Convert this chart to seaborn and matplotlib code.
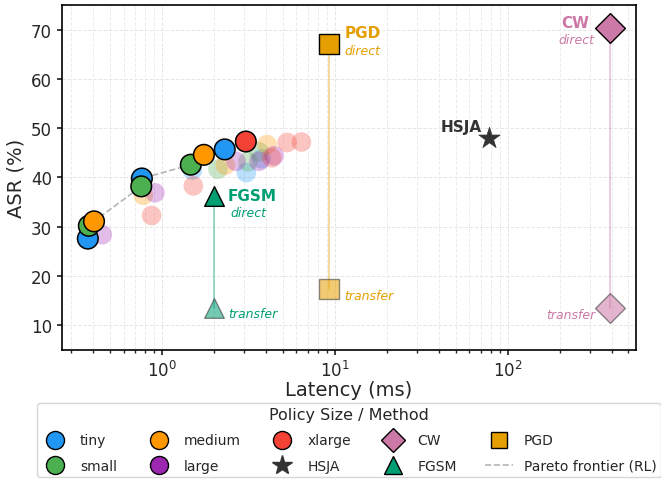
import matplotlib
matplotlib.use("Agg")
import matplotlib.pyplot as plt
import numpy as np
import pandas as pd
import seaborn as sns
from matplotlib.lines import Line2D

# Policy sizes and their colours
sizes = ["tiny", "small", "medium", "large", "xlarge"]
size_colors = ["#2196F3", "#4CAF50", "#FF9800", "#9C27B0", "#F44336"]

# RL policy runs: inference latency (ms) and attack success rate (%)
tiny_latency = [0.373, 0.766, 2.31, 1.50, 3.08, 3.76]
tiny_asr = [27.6, 39.8, 45.7, 41.5, 41.0, 43.8]
small_latency = [0.378, 0.76, 1.47, 2.11, 3.15, 3.65]
small_asr = [30.2, 38.2, 42.6, 41.7, 43.2, 45.2]
medium_latency = [0.405, 1.75, 0.78, 2.33, 4.06]
medium_asr = [31.1, 44.6, 36.4, 42.5, 46.7]
large_latency = [0.452, 0.911, 2.68, 3.65, 4.45]
large_asr = [28.4, 36.9, 43.3, 43.3, 44.4]
xlarge_latency = [3.06, 0.872, 1.52, 4.32, 5.30, 6.42]
xlarge_asr = [47.3, 32.3, 38.3, 44.0, 47.1, 47.2]

# Baseline attacks: direct vs transfer success
attack_names = ["FGSM", "PGD", "CW"]
attack_markers = ["^", "s", "D"]
attack_colors = ["#009E73", "#E69F00", "#CC79A7"]
attack_latency = [2.0, 9.3, 390.0]
attack_direct_asr = [36.3, 67.1, 70.4]
attack_transfer_asr = [13.6, 17.4, 13.5]

hsja_latency = [78.0]
hsja_asr = [48.0]
hsja_color = "#333333"

sns.set_theme(style="ticks", rc={
    "axes.edgecolor": "black",
    "axes.linewidth": 1.2,
    "xtick.major.size": 3.5, "ytick.major.size": 3.5,
    "xtick.minor.size": 2.0,
    "xtick.labelsize": 12, "ytick.labelsize": 12,
    "axes.labelsize": 14,
})
plt.rcParams["font.family"] = ["DejaVu Sans"]

# Assemble policy table and mark the Pareto frontier (min latency, max ASR)
lat_lists = [tiny_latency, small_latency, medium_latency, large_latency, xlarge_latency]
asr_lists = [tiny_asr, small_asr, medium_asr, large_asr, xlarge_asr]
df = pd.concat(
    [pd.DataFrame({"size": s, "latency": l, "asr": a})
     for s, l, a in zip(sizes, lat_lists, asr_lists)],
    ignore_index=True,
)
order = df.sort_values("latency").index
best = -np.inf
front = pd.Series(False, index=df.index)
for i in order:
    if df.loc[i, "asr"] > best:
        front[i] = True
        best = df.loc[i, "asr"]
df["front"] = front

fig = plt.figure(figsize=(6.61, 4.81), dpi=100)
ax = fig.add_axes([0.0934, 0.2703, 0.8686, 0.7172])
ax.set_xscale("log")

palette = dict(zip(sizes, size_colors))

# Dominated runs, faded
sns.scatterplot(data=df[~df["front"]], x="latency", y="asr", hue="size",
                hue_order=sizes, palette=palette, s=200, alpha=0.3,
                linewidth=0, legend=False, ax=ax, zorder=2)

# Pareto frontier line and points
fr = df[df["front"]]
fr_sorted = fr.sort_values("latency")
ax.plot(fr_sorted["latency"], fr_sorted["asr"], ls="--", color="#b5b5b5",
        lw=1.2, zorder=3)
sns.scatterplot(data=fr, x="latency", y="asr", hue="size", hue_order=sizes,
                palette=palette, s=220, edgecolor="black", linewidth=1.1,
                legend=False, ax=ax, zorder=4)

# Baseline attacks
for name, mk, col, lat, d_asr, t_asr in zip(attack_names, attack_markers,
                                           attack_colors, attack_latency,
                                           attack_direct_asr, attack_transfer_asr):
    ax.plot([lat, lat], [t_asr, d_asr], color=col, lw=1.2, alpha=0.45, zorder=1)
    sns.scatterplot(x=[lat], y=[t_asr], marker=mk, color=col, s=200 if mk != "D" else 230,
                    alpha=0.55, edgecolor="#333333", linewidth=1.0, ax=ax,
                    legend=False, zorder=5)
    sns.scatterplot(x=[lat], y=[d_asr], marker=mk, color=col, s=200 if mk != "D" else 230,
                    edgecolor="black", linewidth=1.0, ax=ax, legend=False, zorder=6)

sns.scatterplot(x=hsja_latency, y=hsja_asr, marker="*", color=hsja_color, s=260,
                edgecolor=hsja_color, linewidth=0.5, ax=ax, legend=False, zorder=6)

# Labels for the attacks
lab = dict(textcoords="offset points", zorder=7)
fx, px, cx = attack_latency
fd, pd_, cd = attack_direct_asr
ft, pt, ct = attack_transfer_asr
fc, pc, cc = attack_colors

ax.annotate("FGSM", (fx, fd), xytext=(10, 0), ha="left", va="center",
            fontsize=11, fontweight="bold", color=fc, **lab)
ax.annotate("direct", (fx, fd), xytext=(12, -12), ha="left", va="center",
            fontsize=9, style="italic", color=fc, **lab)
ax.annotate("transfer", (fx, ft), xytext=(10, -4), ha="left", va="center",
            fontsize=9, style="italic", color=fc, **lab)

ax.annotate("PGD", (px, pd_), xytext=(11, 8), ha="left", va="center",
            fontsize=11, fontweight="bold", color=pc, **lab)
ax.annotate("direct", (px, pd_), xytext=(11, -5), ha="left", va="center",
            fontsize=9, style="italic", color=pc, **lab)
ax.annotate("transfer", (px, pt), xytext=(11, -4.5), ha="left", va="center",
            fontsize=9, style="italic", color=pc, **lab)

ax.annotate("CW", (cx, cd), xytext=(-15, 4), ha="right", va="center",
            fontsize=11, fontweight="bold", color=cc, **lab)
ax.annotate("direct", (cx, cd), xytext=(-11, -8.5), ha="right", va="center",
            fontsize=9, style="italic", color=cc, **lab)
ax.annotate("transfer", (cx, ct), xytext=(-10, -4.5), ha="right", va="center",
            fontsize=9, style="italic", color=cc, **lab)

ax.annotate("HSJA", (hsja_latency[0], hsja_asr[0]), xytext=(-5, 8), ha="right",
            va="center", fontsize=11, fontweight="bold", color=hsja_color, **lab)

ax.set_ylim(5, 75)
ax.set_xlabel("Latency (ms)", labelpad=0)
ax.set_ylabel("ASR (%)")
ax.grid(True, which="major", ls="--", lw=0.7, color="#e6e6e6")
ax.grid(True, which="minor", axis="x", ls="--", lw=0.7, color="#ececec")
ax.set_axisbelow(True)
for s in ax.spines.values():
    s.set_visible(True)

# Legend
def circ(c):
    return Line2D([], [], ls="none", marker="o", markersize=13,
                  markerfacecolor=c, markeredgecolor="black", markeredgewidth=1.0)

handles = [
    circ(size_colors[0]), circ(size_colors[1]),
    circ(size_colors[2]), circ(size_colors[3]),
    circ(size_colors[4]),
    Line2D([], [], ls="none", marker="*", markersize=15, color=hsja_color),
    Line2D([], [], ls="none", marker="D", markersize=12, markerfacecolor=cc,
           markeredgecolor="black"),
    Line2D([], [], ls="none", marker="^", markersize=13, markerfacecolor=fc,
           markeredgecolor="black"),
    Line2D([], [], ls="none", marker="s", markersize=12, markerfacecolor=pc,
           markeredgecolor="black"),
    Line2D([], [], ls="--", color="#b5b5b5", lw=1.2),
]
labels = ["tiny", "small", "medium", "large", "xlarge", "HSJA", "CW", "FGSM",
          "PGD", "Pareto frontier (RL)"]
ax.legend(handles, labels, title="Policy Size / Method", loc="upper center",
          bbox_to_anchor=(0.5, -0.134), ncol=5, fontsize=10, title_fontsize=11.5,
          frameon=True, fancybox=True, edgecolor="#cccccc", labelspacing=0.8,
          borderpad=0.3)

fig.savefig("out.png", dpi=100)
